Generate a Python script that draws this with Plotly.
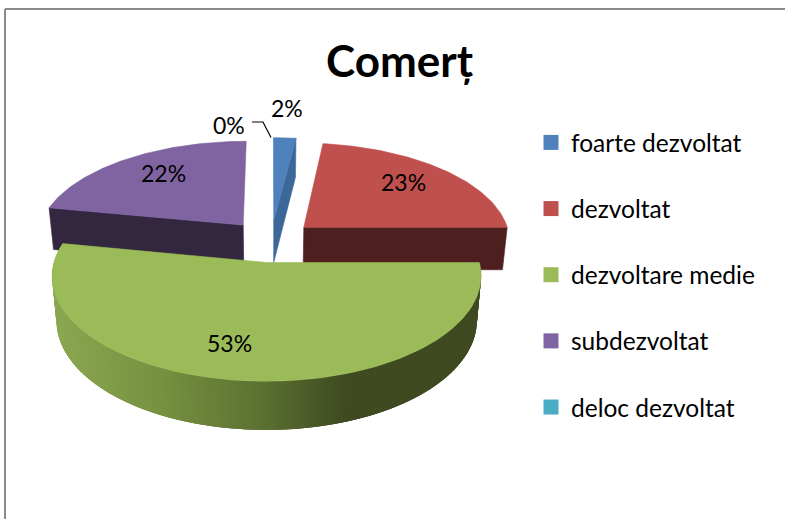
import math
import plotly.graph_objects as go

# ---- data ----
categories = ["foarte dezvoltat", "dezvoltat", "dezvoltare medie", "subdezvoltat", "deloc dezvoltat"]
percent = [2, 23, 53, 22, 0]
title_text = "Comer\u021b"

# ---- styling ----
colors = ["#4f81bd", "#c0504d", "#9bbb59", "#8064a2", "#4bacc6"]
wall_colors = ["#3c6899", "#4d201f", None, "#33273f", None]
FONT = "Lato, Carlito, Calibri, sans-serif"
W, H = 785, 519

# ---- projection of the tilted, exploded pie into page pixels ----
X0, Y0, A, B, P, EXPLODE = 271.0, 241.0, 207.0, 98.0, 0.125, 0.215
BOT_SX, BOT_SY, BOT_D = 0.98, 1.04, 43.0


def project(gx, gy, bottom=False):
    w = 1 + P * gy
    sx, sy, d = (BOT_SX, BOT_SY, BOT_D) if bottom else (1.0, 1.0, 0.0)
    return X0 + sx * A * gx / w, Y0 + d - sy * B * gy / w


def ground(theta_deg, r, mid_deg):
    t, m = math.radians(theta_deg), math.radians(mid_deg)
    return (r * math.sin(t) + EXPLODE * math.sin(m),
            r * math.cos(t) + EXPLODE * math.cos(m))


def frange(a, b, step=1.0):
    n = max(1, int(abs(b - a) / step))
    return [a + (b - a) * i / n for i in range(n + 1)]


# slice angles follow from the percentages
spans = []
acc = 0.0
for v in percent:
    spans.append((acc, acc + v * 3.6))
    acc += v * 3.6

fig = go.Figure()


def poly(points, color, group, hover=None, edge=0.6):
    xs = [p[0] for p in points] + [points[0][0]]
    ys = [p[1] for p in points] + [points[0][1]]
    fig.add_trace(go.Scatter(
        x=xs, y=ys, mode="lines", fill="toself", fillcolor=color,
        line=dict(color=color, width=edge), legendgroup=group, showlegend=False,
        hoverinfo="text" if hover else "skip", text=hover, hoveron="fills" if hover else None))


def top_face(i):
    a, b = spans[i]
    mid = (a + b) / 2
    pts = [project(*ground(0, 0, mid))]
    pts += [project(*ground(t, 1, mid)) for t in frange(a, b)]
    poly(pts, colors[i], categories[i], f"{categories[i]}: {percent[i]}%")


def radial_wall(i, theta):
    a, b = spans[i]
    mid = (a + b) / 2
    c = ground(0, 0, mid)
    e = ground(theta, 1, mid)
    poly([project(*c), project(*e), project(*e, bottom=True), project(*c, bottom=True)],
         wall_colors[i], categories[i])


def lerp_color(x):
    stops = [(55, (0x8b, 0xa7, 0x50)), (163, (0x75, 0x90, 0x40)),
             (263, (0x5a, 0x70, 0x30)), (345, (0x3f, 0x4a, 0x20)), (800, (0x3f, 0x4a, 0x20))]
    for (x1, c1), (x2, c2) in zip(stops, stops[1:]):
        if x <= x2:
            f = max(0.0, (x - x1) / (x2 - x1))
            return "rgb(%d,%d,%d)" % tuple(round(p + (q - p) * f) for p, q in zip(c1, c2))
    return "rgb(63,74,32)"


# far slices first, near slice last
radial_wall(3, spans[3][0])
radial_wall(1, spans[1][1])
radial_wall(0, spans[0][1])
top_face(3)
top_face(1)
top_face(0)

# outer wall of the big slice, shaded in thin overlapping strips (no seams);
# painted from the bright left side so each strip covers the edge of the last
a, b = spans[2]
mid = (a + b) / 2
steps = frange(b, a, 0.8)
for k in range(len(steps) - 1):
    t1, t2 = steps[k], steps[min(k + 3, len(steps) - 1)]
    p1, p2 = ground(t1, 1, mid), ground(t2, 1, mid)
    xm = project(*ground(t1, 1, mid))[0]
    poly([project(*p1), project(*p2), project(*p2, bottom=True), project(*p1, bottom=True)],
         lerp_color(xm), categories[2], edge=0)
top_face(2)

# legend entries
for name, col in zip(categories, colors):
    fig.add_trace(go.Scatter(
        x=[None], y=[None], mode="markers", name=name, legendgroup=name,
        marker=dict(symbol="square", size=15, color=col)))

# data labels: anchored on each slice's bisector, then nudged as in the reference
label_offsets = [(1, -23), (14, -10), (-24, 14), (-8, -11), (-42, -13)]
label_fraction = [1.1, 0.6, 0.6, 0.6, 1.0]
for i, v in enumerate(percent):
    a, b = spans[i]
    m = (a + b) / 2
    x, y = project(*ground(m, label_fraction[i], m))
    dx, dy = label_offsets[i]
    fig.add_annotation(x=x + dx, y=y + dy, text=f"{v}%", showarrow=False,
                       xref="x", yref="y", xanchor="center", yanchor="middle",
                       font=dict(family=FONT, size=23, color="#000000"))

# leader line from the 0% label to its (empty) slice
rim = project(*ground(spans[4][0], 1, spans[4][0]))
leader_path = f"M 252 122 L 263 122 L {rim[0]:.1f} {rim[1]:.1f}"

frame_color = "#8a8a8a"
fig.update_layout(
    width=W, height=H, margin=dict(l=0, r=0, t=0, b=0),
    paper_bgcolor="#ffffff", plot_bgcolor="#ffffff",
    xaxis=dict(range=[0, W], visible=False, fixedrange=True),
    yaxis=dict(range=[H, 0], visible=False, fixedrange=True),
    showlegend=True,
    legend=dict(x=531 / W, xanchor="left", y=1 - 120 / H, yanchor="top",
                font=dict(family=FONT, size=24.5, color="#000000"),
                tracegroupgap=31.3, bgcolor="rgba(0,0,0,0)", borderwidth=0),
    annotations=list(fig.layout.annotations) + [
        dict(x=400, y=60, xref="x", yref="y", text=f"<b>{title_text}</b>", showarrow=False,
             font=dict(family=FONT, size=44, color="#000000"))],
    shapes=[
        dict(type="path", path=leader_path, xref="x", yref="y", line=dict(color="#000000", width=1.2)),
        dict(type="line", x0=5, x1=W, y0=9, y1=9, xref="x", yref="y", line=dict(color=frame_color, width=2)),
        dict(type="line", x0=5, x1=5, y0=9, y1=H, xref="x", yref="y", line=dict(color=frame_color, width=2)),
    ],
)
fig.write_html("out.html", config={"displayModeBar": False},
               post_script="document.body.style.margin='0';document.body.style.overflow='hidden';")
